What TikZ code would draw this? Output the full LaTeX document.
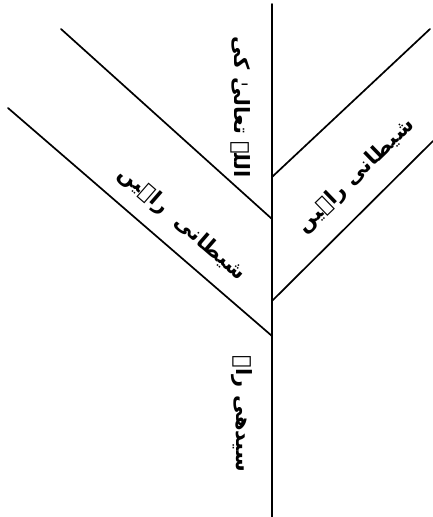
\documentclass[tikz,border=0pt]{standalone}
\usepackage{fontspec}
\newfontfamily\arabicfont[Script=Arabic]{DejaVu Sans}
\TeXXeTstate=1
\begin{document}
\begin{tikzpicture}[x=1pt,y=-1pt,
  road/.style={line width=1.7pt, line cap=round},
  lbl/.style={font=\arabicfont\bfseries\fontsize{21}{25}\selectfont, inner sep=0pt}]
\useasboundingbox[fill=white] (0,0) rectangle (433,517);
% named points
\coordinate (vtop) at (272,4);
\coordinate (vbot) at (272,517);
\coordinate (ulS) at (61,29);
\coordinate (ulE) at (272,219);
\coordinate (llS) at (8,108);
\coordinate (llE) at (272,336);
\coordinate (urS) at (272,177);
\coordinate (urE) at (430,29);
\coordinate (lrS) at (272,301);
\coordinate (lrE) at (433,141);
% roads
\draw[road] (vtop) -- (vbot);
\draw[road] (ulS) -- (ulE);
\draw[road] (llS) -- (llE);
\draw[road] (urS) -- (urE);
\draw[road] (lrS) -- (lrE);
% labels
\node[lbl, rotate=-90] (allah) at (241,107) {\beginR اللہ تعالیٰ کی\endR};
\node[lbl, rotate=44] (shR) at (356,176) {\beginR شیطانی راہیں\endR};
\node[lbl, rotate=-41] (shL) at (182,224) {\beginR شیطانی \ راہیں\endR};
\node[lbl, rotate=-90] (seedhi) at (242,414) {\beginR سیدھی راہ\endR};
\end{tikzpicture}
\end{document}
